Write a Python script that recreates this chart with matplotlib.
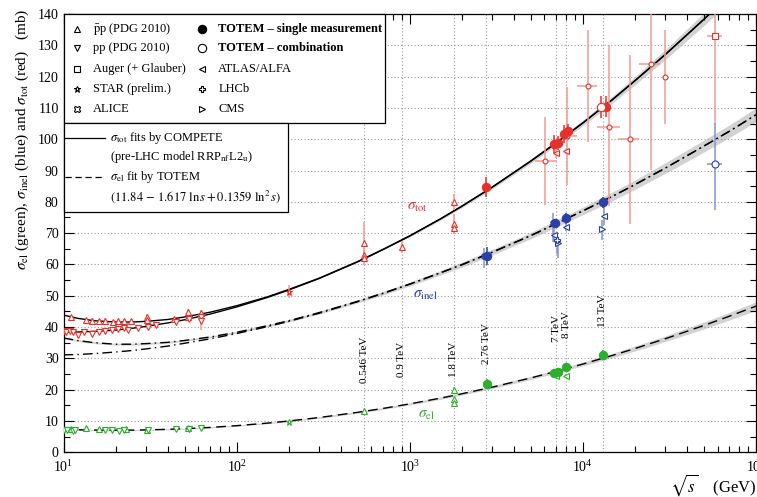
import matplotlib
matplotlib.use('Agg')
import numpy as np
import matplotlib.pyplot as plt
from matplotlib.patches import Rectangle

plt.rcParams['font.family'] = ['Liberation Serif', 'DejaVu Serif']
plt.rcParams['mathtext.fontset'] = 'stix'

# ---- fit curves, values (sqrt(s) in GeV, sigma in mb)
curve_e = [10, 12, 15, 20, 25, 30, 40, 50, 70, 100, 150, 200, 300, 500, 700,
           1000, 1500, 2000, 3000, 5000, 7000, 10000, 15000, 20000, 30000,
           50000, 70000, 100000]
tot_ppbar = [43.8, 42.8, 42.0, 41.6, 41.6, 41.8, 42.4, 43.2, 44.7, 46.8, 49.6,
             52.0, 55.6, 60.9, 64.8, 69.1, 74.5, 78.6, 84.7, 93.0, 98.8, 105.2,
             112.9, 118.7, 127.1, 138.3, 146.0, 154.4]
tot_pp = [38.4, 38.4, 38.6, 39.0, 39.6, 40.2, 41.3, 42.3, 44.1, 46.4, 49.4,
          51.8, 55.5, 60.8, 64.7, 69.1, 74.5, 78.6, 84.7, 93.0, 98.8, 105.2,
          112.9, 118.7, 127.1, 138.3, 146.0, 154.4]
inel_ppbar = [36.5, 35.7, 35.0, 34.5, 34.5, 34.7, 35.1, 35.7, 36.8, 38.3, 40.4,
              42.0, 44.6, 48.2, 50.8, 53.7, 57.3, 59.9, 63.9, 69.2, 73.0, 77.1,
              81.9, 85.5, 90.8, 97.8, 102.5, 107.8]
inel_pp = [31.1, 31.2, 31.5, 32.0, 32.5, 33.0, 33.9, 34.8, 36.2, 37.9, 40.1,
           41.8, 44.4, 48.1, 50.7, 53.7, 57.3, 59.9, 63.9, 69.2, 73.0, 77.1,
           81.9, 85.5, 90.8, 97.8, 102.5, 107.8]
el_fit = [7.28, 7.16, 7.07, 7.03, 7.06, 7.13, 7.31, 7.51, 7.91, 8.48, 9.28,
          9.97, 11.08, 12.74, 13.98, 15.44, 17.26, 18.67, 20.79, 23.73, 25.82,
          28.17, 31.01, 33.13, 36.27, 40.49, 43.42, 46.66]
# half widths of the grey uncertainty bands
tot_band = [0.0] * 15 + [0.3, 0.4, 0.5, 0.6, 0.7, 0.8, 0.9, 1.1, 1.3, 1.6,
                         2.0, 2.3, 2.6]
inel_band = [0.3] * 10 + [0.35, 0.4, 0.45, 0.5, 0.55, 0.6, 0.7, 0.8, 0.9, 1.0,
                          1.1, 1.2, 1.4, 1.5, 1.7, 1.9, 2.0, 2.2]
el_band = [0.2] * 12 + [0.25, 0.3, 0.32, 0.35, 0.38, 0.4, 0.45, 0.5, 0.55,
                        0.6, 0.7, 0.8, 0.9, 1.1, 1.2, 1.4]

# ---- sigma_tot data (red)
ppbar_tot_e = [11.1, 13.4, 14.6, 16.1, 17.4, 19.3, 20.6, 22.3, 24.6, 30.4,
               30.4, 43.4, 52.6, 52.6, 62.3, 546, 546, 546, 900, 1800, 1800,
               1800]
ppbar_tot_v = [43.3, 42.2, 41.9, 42.0, 41.8, 41.7, 42.0, 41.8, 42.0, 43.3,
               42.1, 42.5, 43.3, 44.9, 44.4, 66.7, 63.0, 61.9, 65.5, 80.0,
               72.9, 71.7]
ppbar_tot_err = [0.4, 0.5, 1.0, 0.4, 1.2, 0.5, 0.4, 0.6, 0.4, 0.8, 0.6, 0.8,
                 0.6, 0.7, 1.0, 7.0, 1.5, 1.0, 1.9, 2.6, 3.1, 2.0]
pp_tot_e = [10.0, 10.4, 10.9, 11.4, 12.1, 13.2, 14.6, 16.1, 17.4, 19.0, 20.6,
            22.4, 23.5, 26.8, 30.6, 34.4, 44.7, 52.8, 62.3, 62.3]
pp_tot_v = [38.6, 38.5, 38.6, 38.3, 37.4, 38.4, 37.9, 38.4, 38.8, 39.2, 39.5,
            39.7, 38.9, 39.7, 40.1, 40.6, 41.7, 42.4, 43.3, 42.0]
pp_tot_err = [0.4, 0.4, 0.5, 0.5, 0.8, 0.5, 0.8, 0.6, 0.9, 0.8, 0.6, 0.5, 0.4,
              0.5, 0.4, 0.4, 0.5, 0.5, 0.8, 3.0]
cosmic_e = [6080, 8100, 10700, 14200, 18700, 24700, 30000]
cosmic_v = [93.0, 101.0, 117.0, 104.0, 100.1, 124.0, 120.0]
cosmic_lo = [14.0, 15.6, 17.8, 25.5, 27.1, 33.8, 15.0]
cosmic_hi = [14.2, 15.8, 18.0, 26.0, 26.9, 26.0, 15.0]
cosmic_xlo = [800, 600, 1500, 2200, 2800, 3600, 0]
cosmic_xhi = [970, 1100, 1300, 2100, 2400, 3200, 0]
totem_tot_e = [2760, 6820, 7200, 7800, 8230, 13600]
totem_tot_v = [84.7, 98.5, 98.9, 101.6, 102.7, 110.4]
totem_tot_err = [3.3, 2.8, 2.2, 2.9, 2.1, 3.4]
comb_tot_e = [12800]
comb_tot_v = [110.3]
comb_tot_err = [3.5]
atlas_tot_e = [7000, 8000]
atlas_tot_v = [95.5, 96.1]
atlas_tot_err = [1.4, 0.9]
star_e = [200]
star_tot_v = [51.3]
star_tot_err = [2.0]
star_el_v = [9.7]

# Auger (+ Glauber)
auger_e = [57900]
auger_xlo = [5800]
auger_xhi = [6100]
auger_tot_v = [133.1]
auger_tot_lo = [28.6]
auger_tot_hi = [28.6]
auger_inel_v = [92.1]
auger_inel_lo = [14.7]
auger_inel_hi = [13.0]

# ---- sigma_inel data (blue)
totem_inel_e = [2800, 6900, 8000, 13000]
totem_inel_v = [62.8, 73.1, 74.7, 79.8]
totem_inel_err = [2.9, 1.3, 1.7, 1.8]
alice_inel_e = [2700, 6750]
alice_inel_v = [62.8, 73.1]
alice_inel_lo = [4.0, 6.0]
alice_inel_hi = [2.4, 3.4]
atlas_inel_e = [6850, 8000, 13300]
atlas_inel_v = [69.4, 71.8, 75.5]
atlas_inel_err = [2.4, 1.0, 2.9]
cms_inel_e = [7150, 12900]
cms_inel_v = [66.9, 71.2]
cms_inel_lo = [5.0, 3.4]
cms_inel_hi = [2.0, 3.0]
lhcb_inel_e = [7050]
lhcb_inel_v = [67.8]
lhcb_inel_lo = [4.5]
lhcb_inel_hi = [1.5]

# ---- sigma_el data (green)
totem_el_e = [2800, 6820, 7200, 8000, 13000]
totem_el_v = [21.9, 25.4, 25.7, 27.2, 31.0]
totem_el_err = [1.4, 1.1, 1.1, 1.4, 1.7]
atlas_el_e = [7000, 8000]
atlas_el_v = [24.3, 24.5]
atlas_el_err = [0.4, 0.4]
ppbar_el_e = [11.0, 13.4, 16.0, 23.0, 30.4, 52.6, 546, 1800, 1800, 1800]
ppbar_el_v = [7.3, 7.6, 7.3, 7.5, 7.2, 7.6, 13.3, 19.9, 16.9, 15.8]
ppbar_el_err = [0.3, 0.3, 0.3, 0.3, 0.3, 0.3, 0.6, 0.9, 0.5, 0.8]
pp_el_e = [10.0, 10.5, 11.3, 11.6, 17.3, 19.0, 20.9, 22.5, 30.6, 44.7, 52.8,
           62.3]
pp_el_v = [7.2, 7.0, 6.9, 7.1, 7.1, 7.0, 6.9, 7.0, 7.1, 7.3, 7.5, 7.6]

# energies marked by dotted lines
mark_e = [546, 900, 1800, 2760, 7000, 8000, 13000]
mark_txt = ['0.546 TeV', '0.9 TeV', '1.8 TeV', '2.76 TeV', '7 TeV', '8 TeV',
            '13 TeV']
mark_y = [22.0, 23.9, 23.9, 28.2, 35.3, 36.4, 39.9]

RED, RED_L = '#e8302a', '#f39a92'
BLUE, BLUE_L = '#2b3fa6', '#8593d4'
GREEN, GREEN_L = '#2eae2e', '#8ad68a'

fig = plt.figure(figsize=(7.57, 4.97), dpi=100)
ax = fig.add_axes([63.5 / 757, 1 - 452.2 / 497, 692.5 / 757, 438.2 / 497])
ax.set_xscale('log')


def pts(x, y, yerr, marker, edge, ecol, face='white', ms=4, xerr=None, z=5):
    ax.errorbar(x, y, yerr=yerr, xerr=xerr, fmt=marker, ms=ms, mfc=face,
                mec=edge, mew=0.8, ecolor=ecol, elinewidth=1.1, capsize=0,
                zorder=z)


# grey bands + fit curves
ce = np.array(curve_e)
for vals, band in [(tot_ppbar, tot_band), (inel_ppbar, inel_band),
                   (el_fit, el_band)]:
    v, b = np.array(vals), np.array(band)
    ax.fill_between(ce, v - b, v + b, color='#d2d2d2', lw=0, zorder=1)
ax.plot(ce, tot_ppbar, color='k', lw=1.0, zorder=3)
ax.plot(ce, tot_pp, color='k', lw=1.0, zorder=3)
ax.plot(ce, inel_ppbar, color='k', lw=1.0, ls=(0, (7, 3, 1, 3)), zorder=3)
ax.plot(ce, inel_pp, color='k', lw=1.0, ls=(0, (7, 3, 1, 3)), zorder=3)
ax.plot(ce, el_fit, color='k', lw=1.0, ls=(0, (7, 4)), zorder=3)

# red
pts(ppbar_tot_e, ppbar_tot_v, ppbar_tot_err, '^', RED, RED_L)
pts(pp_tot_e, pp_tot_v, pp_tot_err, 'v', RED, RED_L)
pts(cosmic_e, cosmic_v, [cosmic_lo, cosmic_hi], 'o', RED, RED_L, ms=3.5,
    xerr=[cosmic_xlo, cosmic_xhi])
pts(star_e, star_tot_v, star_tot_err, '*', RED, RED_L, ms=5)
pts(atlas_tot_e, atlas_tot_v, atlas_tot_err, '<', RED, RED_L)
pts(auger_e, auger_tot_v, [auger_tot_lo, auger_tot_hi], 's', RED, RED_L,
    xerr=[auger_xlo, auger_xhi])
pts(totem_tot_e, totem_tot_v, totem_tot_err, 'o', RED, RED, face=RED, ms=6,
    z=6)
pts(comb_tot_e, comb_tot_v, comb_tot_err, 'o', RED, RED, ms=6, z=7)

# blue
pts(alice_inel_e, alice_inel_v, [alice_inel_lo, alice_inel_hi], 'X', BLUE,
    BLUE_L)
pts(atlas_inel_e, atlas_inel_v, atlas_inel_err, '<', BLUE, BLUE_L)
pts(cms_inel_e, cms_inel_v, [cms_inel_lo, cms_inel_hi], '>', BLUE, BLUE_L)
pts(lhcb_inel_e, lhcb_inel_v, [lhcb_inel_lo, lhcb_inel_hi], 'P', BLUE, BLUE_L)
pts(auger_e, auger_inel_v, [auger_inel_lo, auger_inel_hi], 'o', BLUE, BLUE_L,
    ms=5, xerr=[auger_xlo, auger_xhi])
pts(totem_inel_e, totem_inel_v, totem_inel_err, 'o', BLUE, BLUE, face=BLUE,
    ms=6, z=6)

# green
pts(ppbar_el_e, ppbar_el_v, ppbar_el_err, '^', GREEN, GREEN_L)
pts(pp_el_e, pp_el_v, None, 'v', GREEN, GREEN_L)
pts(star_e, star_el_v, None, '*', GREEN, GREEN_L, ms=5)
pts(atlas_el_e, atlas_el_v, atlas_el_err, '<', GREEN, GREEN_L)
pts(totem_el_e, totem_el_v, totem_el_err, 'o', GREEN, GREEN, face=GREEN,
    ms=6, z=6)

# dotted energy lines and their tags
for e, t, y in zip(mark_e, mark_txt, mark_y):
    ax.axvline(e, color='#9a9a9a', lw=0.8, ls=(0, (1, 2)), zorder=0)
    ax.text(e, y, t, rotation=90, ha='center', va='bottom', fontsize=8,
            zorder=4)

ax.text(1107, 78.2, r'$\sigma_{\rm tot}$', color=RED, fontsize=11,
        ha='center', va='center')
ax.text(1236, 50.2, r'$\sigma_{\rm inel}$', color=BLUE, fontsize=11,
        ha='center', va='center')
ax.text(1250, 11.6, r'$\sigma_{\rm el}$', color=GREEN, fontsize=11,
        ha='center', va='center')

ax.set_xlim(10, 1e5)
ax.set_ylim(0, 140)
ax.set_yticks(np.arange(0, 141, 10))
ax.set_yticks(np.arange(5, 140, 10), minor=True)
ax.grid(axis='y', which='major', color='#9a9a9a', lw=0.8, ls=(0, (1, 2)),
        zorder=0)
ax.tick_params(which='both', direction='in', top=True, right=True,
               labelsize=10)
ax.tick_params(which='major', length=7, width=0.8)
ax.tick_params(which='minor', length=4, width=0.8)
ax.tick_params(axis='x', pad=5)
for s in ax.spines.values():
    s.set_linewidth(0.9)

# legend boxes drawn by hand
tr = ax.transAxes
ax.add_patch(Rectangle((0, 0.752), 0.464, 0.248, transform=tr, fc='white',
                       ec='k', lw=0.9, zorder=10, clip_on=False))
ax.add_patch(Rectangle((0, 0.5475), 0.3246, 0.2045, transform=tr,
                       fc='white', ec='k', lw=0.9, zorder=10, clip_on=False))
rows = [0.965, 0.922, 0.875, 0.828, 0.783]
col1 = [('^', 'white', r'$\bar{\rm p}$p (PDG 2010)'),
        ('v', 'white', 'pp (PDG 2010)'),
        ('s', 'white', 'Auger (+ Glauber)'),
        ('*', 'white', 'STAR (prelim.)'),
        ('X', 'white', 'ALICE')]
col2 = [('o', 'k', 'TOTEM – single measurement'),
        ('o', 'white', 'TOTEM – combination'),
        ('<', 'white', 'ATLAS/ALFA'),
        ('P', 'white', 'LHCb'),
        ('>', 'white', 'CMS')]
for y, (m, f, t) in zip(rows, col1):
    ax.plot([0.019], [y], m, ms=5, mfc=f, mec='k', mew=0.8, transform=tr,
            zorder=11, clip_on=False)
    ax.text(0.042, y, t, transform=tr, va='center', fontsize=9, zorder=12)
for i, (y, (m, f, t)) in enumerate(zip(rows, col2)):
    ax.plot([0.1996], [y], m, ms=6 if i < 2 else 5, mfc=f, mec='k', mew=0.8,
            transform=tr, zorder=11, clip_on=False)
    ax.text(0.2235, y, t, transform=tr, va='center', fontsize=9, zorder=12,
            fontweight='bold' if i < 2 else 'normal')

rows2 = [0.7177, 0.6743, 0.6287, 0.5830]
ax.plot([0.002, 0.06], [rows2[0]] * 2, color='k', lw=0.9, transform=tr,
        zorder=11)
ax.plot([0.002, 0.06], [rows2[2]] * 2, color='k', lw=0.9, ls=(0, (5, 3)),
        transform=tr, zorder=11)
leg2 = [r'$\sigma_{\rm tot}$ fits by COMPETE',
        r'(pre-LHC model RRP$_{\rm nf}$L2$_{\rm u}$)',
        r'$\sigma_{\rm el}$ fit by TOTEM',
        r'$(11.84\,-\,1.617\ \ln s + 0.1359\ \ln^2 s)$']
for y, t in zip(rows2, leg2):
    ax.text(0.067, y, t, transform=tr, va='center', fontsize=9, zorder=12)

fig.text(0.029, 0.72,
         r'$\sigma_{\rm el}$ (green), $\sigma_{\rm inel}$ (blue) and '
         r'$\sigma_{\rm tot}$ (red)   (mb)',
         rotation=90, ha='center', va='center', fontsize=11)
fig.text(0.999, 0.024, r'$\sqrt{s}$    (GeV)', ha='right', va='center',
         fontsize=12)

fig.savefig('out.png', dpi=100)
